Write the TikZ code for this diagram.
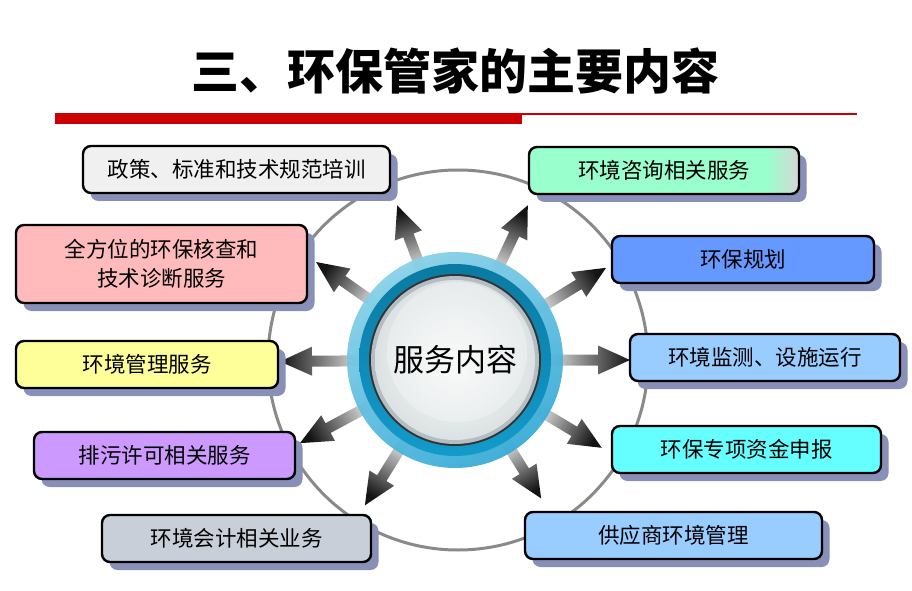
\documentclass[tikz,border=0pt]{standalone}
\usepackage{fontspec}
\newfontfamily\cjk{Noto Sans CJK SC}
\usetikzlibrary{shadows,calc}
\definecolor{shadowc}{RGB}{136,144,184}
\definecolor{redbar}{RGB}{204,0,0}
\definecolor{bxa}{HTML}{F0F0F0}
\definecolor{bxb}{HTML}{FFBBBB}
\definecolor{bxc}{HTML}{FFFF99}
\definecolor{bxd}{HTML}{CC99FF}
\definecolor{bxe}{HTML}{C8CFD8}
\definecolor{bxf}{HTML}{99FFCC}
\definecolor{bxg}{HTML}{6699FF}
\definecolor{bxh}{HTML}{99CCFF}
\definecolor{bxi}{HTML}{66FFFF}
\definecolor{fadegray}{HTML}{D6D6D6}
\definecolor{arrlight}{HTML}{E4E4E4}
\definecolor{arrdark}{HTML}{141414}
\definecolor{ringlight}{HTML}{86D0E8}
\definecolor{ringmid}{HTML}{35AAD6}
\definecolor{ringdarkA}{HTML}{0A7AA2}
\definecolor{ringdarkB}{HTML}{139BCB}
\definecolor{discin}{HTML}{F8F9F9}
\definecolor{discout}{HTML}{DCE2E3}
\definecolor{discedge}{HTML}{B4BEC2}
\definecolor{circgray}{HTML}{8A8A8A}
\pgfdeclarehorizontalshading{mintfade}{100bp}{color(0bp)=(bxf); color(69bp)=(bxf); color(75bp)=(fadegray); color(100bp)=(fadegray)}
\tikzset{
  box/.style={draw=black, line width=2.4pt, rounded corners=8pt, minimum height=47pt,
    inner sep=0pt, align=center, font=\cjk\fontsize{21.5}{27}\selectfont,
    drop shadow={shadow xshift=7.5pt, shadow yshift=-8pt, fill=shadowc, opacity=1}},
  gradarr/.style={left color=arrlight, right color=arrdark}
}
\newcommand\gradarrow[3]{%
  \pgfmathsetmacro\myshadeang{90+#1}%
  \begin{scope}[shift={(c.center)}, rotate=#1]
    \coordinate (#3) at (#2,0);
    \shade[gradarr, shading angle=\myshadeang] (92,-5.5) -- ({#2-32},-5.5) -- ({#2-32},-14.5) -- (#3) -- ({#2-32},14.5) -- ({#2-32},5.5) -- (92,5.5) -- cycle;
  \end{scope}}
\begin{document}
\begin{tikzpicture}[x=1pt,y=1pt]
\useasboundingbox (0,0) rectangle (912,590);
\fill[white] (0,0) rectangle (912,590);
% title
\node[font=\cjk\bfseries\fontsize{48}{52}\selectfont, inner sep=0pt] (title) at (455,519) {三、环保管家的主要内容};
\fill[redbar] (55,466) rectangle (522,477);
\fill[redbar] (522,475) rectangle (857,477);
% big circle
\draw[circgray, line width=3pt] (458,230) circle (190pt);
% centre node placeholder
\node[circle, minimum size=216pt, inner sep=0pt] (c) at (455,230) {};
% arrows
\gradarrow{110.5}{165}{t1}
\gradarrow{144.8}{170}{t2}
\gradarrow{180.5}{175}{t3}
\gradarrow{208.2}{176}{t4}
\gradarrow{238.2}{171}{t5}
\gradarrow{64.8}{171}{t6}
\gradarrow{31.4}{177}{t7}
\gradarrow{0}{175}{t8}
\gradarrow{-30.9}{171}{t9}
\gradarrow{-58.1}{163}{t10}
% centre circle rings
\shade[top color=ringlight, bottom color=ringmid, shading angle=30, opacity=0.93] (c.center) circle (108pt);
\shade[top color=ringdarkA, bottom color=ringdarkB] (c.center) circle (96pt);
\fill[black!80] (c.center) circle (86pt);
\fill[discedge] (c.center) circle (84pt);
\shade[inner color=discin, outer color=discout] (c.center) circle (80pt);
\fill[white, opacity=0.3] ($(c.center)+(2,8)$) circle (70pt);
\node[font=\cjk\fontsize{31}{34}\selectfont, inner sep=0pt] (ctext) at (c.center) {服务内容};
% boxes
\node[box, fill=bxa, minimum width=307pt] (b1) at (236.5,420.5) {政策、标准和技术规范培训};
\node[box, fill=bxb, minimum width=291pt, minimum height=78pt, font=\cjk\fontsize{21.5}{29}\selectfont] (b2) at (161.5,326) {全方位的环保核查和\\技术诊断服务};
\node[box, fill=bxc, minimum width=262pt] (b3) at (147,225.5) {环境管理服务};
\node[box, fill=bxd, minimum width=261pt] (b4) at (164.5,134.5) {排污许可相关服务};
\node[box, fill=bxe, minimum width=269pt] (b5) at (236.5,51.5) {环境会计相关业务};
\node[box, shade, shading=mintfade, minimum width=270pt] (b6) at (664,419.5) {环境咨询相关服务};
\node[box, fill=bxg, minimum width=262pt] (b7) at (743,330.5) {环保规划};
\node[box, fill=bxh, minimum width=270pt] (b8) at (765,232.5) {环境监测、设施运行};
\node[box, fill=bxi, minimum width=269pt] (b9) at (746.5,140.5) {环保专项资金申报};
\node[box, fill=bxh, minimum width=297pt] (b10) at (673.5,54.5) {供应商环境管理};
\end{tikzpicture}
\end{document}
